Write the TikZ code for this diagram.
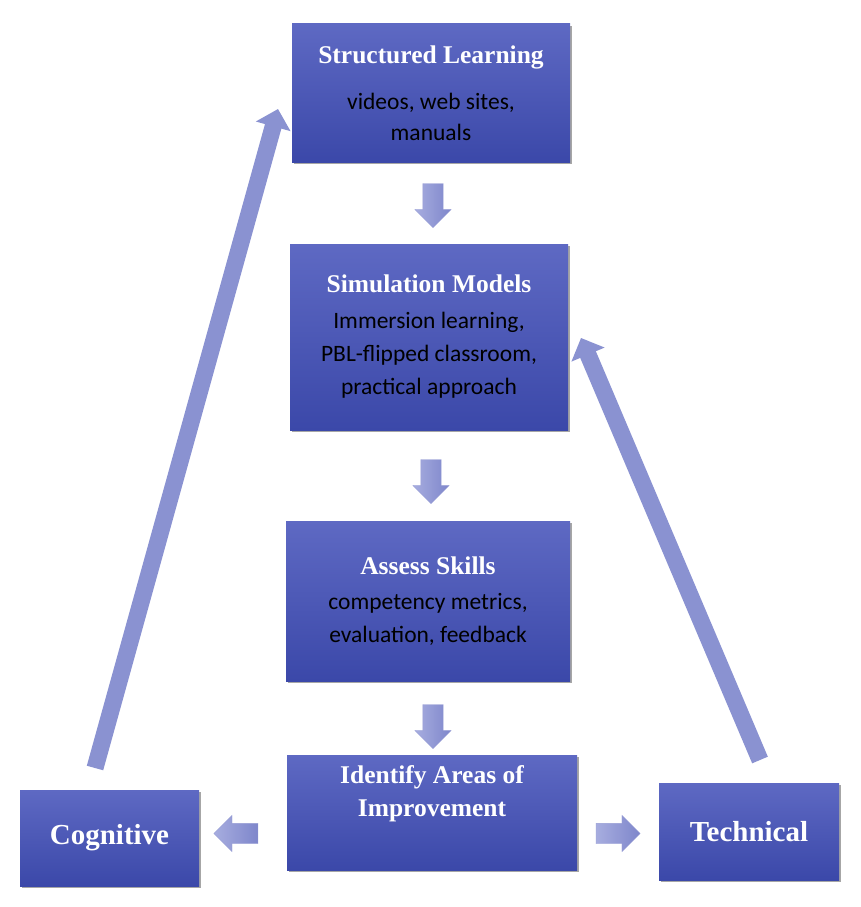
\documentclass[tikz,border=0pt]{standalone}
\usepackage{fontspec}
\setmainfont{Carlito}
\newfontfamily\headfont{Liberation Serif}
\usepackage{xcolor}
\usepackage{tikz}
\usetikzlibrary{arrows.meta,shapes.arrows,shadows}
\definecolor{boxtop}{HTML}{5E69C3}
\definecolor{boxbot}{HTML}{3B48A9}
\definecolor{flowlight}{HTML}{A7ADDF}
\definecolor{flowdark}{HTML}{7E86CB}
\definecolor{loopcol}{HTML}{8A92D1}
\newcommand{\stagetitle}[1]{{\headfont\bfseries\fontsize{25.5}{32}\selectfont\color{white}#1}}

\begin{document}
\begin{tikzpicture}[
  x=1pt, y=-1pt,
  stage/.style={rectangle, top color=boxtop, bottom color=boxbot, align=center, inner sep=4pt,
    font=\fontsize{23.5}{33}\selectfont,
    drop shadow={shadow xshift=2pt, shadow yshift=-2pt, opacity=0.35, fill=black}},
  head/.style={font=\headfont\bfseries\fontsize{25.5}{33}\selectfont, text=white},
  side/.style={font=\headfont\bfseries\fontsize{29}{33}\selectfont, text=white},
  flow/.style={single arrow, single arrow head extend=8pt, single arrow tip angle=90, inner sep=10pt,
    minimum height=44pt, left color=flowlight, right color=flowdark, draw=flowdark!80, line width=0.3pt},
  loop/.style={-{Triangle[width=35pt, length=18pt]}, line width=17pt, color=loopcol}
]
  \useasboundingbox (0,0) rectangle (860,907);

  % stages
  \node[stage, minimum width=278pt, minimum height=138pt, font=\fontsize{23.5}{31}\selectfont] (learn) at (431,93)
    {\stagetitle{Structured Learning}\\[15pt] videos, web sites,\\ manuals};
  \node[stage, minimum width=278pt, minimum height=186pt] (sim) at (429,337)
    {\stagetitle{Simulation Models}\\[3pt] Immersion learning,\\ PBL-flipped classroom,\\ practical approach};
  \node[stage, minimum width=284pt, minimum height=160pt] (assess) at (428,601)
    {\stagetitle{Assess Skills}\\[2pt] competency metrics,\\ evaluation, feedback};
  \node[stage, minimum width=290pt, minimum height=115pt] (improve) at (432,812.5) {};
  \node[head, align=center, anchor=north] (improvetext) at ([yshift=-7pt]improve.north)
    {Identify Areas of\\Improvement};
  \node[stage, minimum width=179pt, minimum height=96pt, side] (cog) at (109.5,838) {Cognitive};
  \node[stage, minimum width=180pt, minimum height=97pt, side] (tech) at (749,831.5) {Technical};

  % flow arrows
  \node[flow, rotate=-90] (f1) at (433,200.5) {};
  \node[flow, rotate=-90] (f2) at (431,476.5) {};
  \node[flow, rotate=-90] (f3) at (433,721.5) {};
  \node[flow, rotate=180] (f4) at (241,833.5) {};
  \node[flow] (f5) at (613,833.5) {};

  % feedback loops
  \coordinate (cogtail) at (95,768);
  \coordinate (learntip) at (278,109);
  \coordinate (techtail) at (760,760);
  \coordinate (simtip) at (581,338);
  \draw[loop] (cogtail) -- (learntip);
  \draw[loop] (techtail) -- (simtip);
\end{tikzpicture}
\end{document}
